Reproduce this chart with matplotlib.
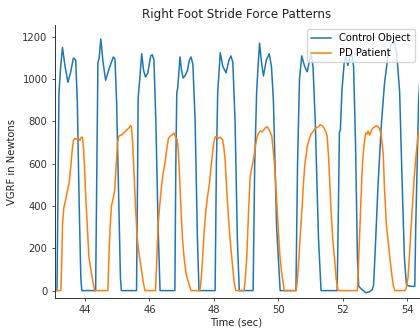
import matplotlib
matplotlib.use("Agg")
import matplotlib.pyplot as plt

control_t = [43.00, 43.13, 43.19, 43.24, 43.30, 43.38, 43.47, 43.55, 43.64, 43.71, 43.76, 43.82, 43.87, 43.90,
             44.33, 44.37, 44.40, 44.44, 44.49, 44.56, 44.64, 44.75, 44.88, 44.93, 44.98, 45.05, 45.10, 45.13,
             45.60, 45.63, 45.65, 45.70, 45.76, 45.82, 45.88, 45.95, 46.04, 46.09, 46.14, 46.20, 46.27, 46.33,
             46.79, 46.82, 46.85, 46.88, 46.95, 47.00, 47.05, 47.12, 47.18, 47.24, 47.29, 47.35, 47.42, 47.49, 47.54,
             48.04, 48.08, 48.12, 48.20, 48.28, 48.38, 48.47, 48.53, 48.59, 48.66, 48.73, 48.79,
             49.22, 49.27, 49.33, 49.37, 49.42, 49.48, 49.54, 49.63, 49.72, 49.79, 49.85, 49.95, 50.06,
             50.55, 50.60, 50.66, 50.73, 50.82, 50.90, 50.96, 51.02, 51.08, 51.15, 51.25, 51.33,
             51.83, 51.87, 51.90, 51.93, 51.98, 52.05, 52.10, 52.16, 52.22, 52.28, 52.34, 52.40, 52.46, 52.50,
             52.60, 52.72, 52.84, 52.92, 52.96, 53.00, 53.10, 53.20, 53.30, 53.40, 53.50, 53.61, 53.68, 53.77,
             53.85, 53.92, 53.98, 54.05, 54.15, 54.24, 54.27, 54.32, 54.36, 54.40]
control_v = [0, 0, 930, 1050, 1150, 1060, 985, 1030, 1100, 1090, 900, 400, 60, 0,
             0, 600, 1075, 1100, 1190, 1080, 995, 1050, 1105, 1095, 900, 400, 60, 0,
             0, 500, 910, 1000, 1120, 1040, 1010, 1030, 1110, 1115, 1090, 800, 300, 0,
             0, 600, 935, 960, 1105, 1040, 1005, 1020, 1040, 1090, 1105, 1070, 800, 250, 0,
             0, 600, 935, 1125, 1060, 1030, 1090, 1110, 1080, 800, 250, 0,
             0, 600, 940, 1050, 1170, 1080, 1015, 1090, 1120, 1060, 900, 300, 0,
             0, 600, 1000, 1110, 1060, 1035, 1080, 1115, 1060, 800, 250, 0,
             0, 400, 750, 760, 950, 1080, 1110, 1065, 1100, 1120, 1060, 700, 150, 20,
             5, -10, -5, 5, 25, 150, 500, 780, 980, 1100, 1160, 1175, 1120, 940,
             500, 150, 30, 22, 20, 20, 300, 630, 900, 1000]

pd_t = [43.00, 43.25, 43.28, 43.30, 43.34, 43.40, 43.45, 43.51, 43.56, 43.60, 43.64, 43.68, 43.74, 43.80,
        43.84, 43.88, 43.92, 43.95, 43.98, 44.03, 44.07, 44.12, 44.18, 44.23, 44.30,
        44.71, 44.74, 44.78, 44.82, 44.88, 44.92, 44.97, 45.01, 45.05, 45.10, 45.14, 45.19, 45.24, 45.30,
        45.37, 45.41, 45.44, 45.48, 45.52, 45.57, 45.62, 45.68, 45.76, 45.81, 45.86,
        46.19, 46.23, 46.27, 46.33, 46.38, 46.43, 46.48, 46.53, 46.59, 46.65, 46.69, 46.73, 46.77, 46.81,
        46.85, 46.89, 46.93, 46.98, 47.03, 47.08, 47.14, 47.19, 47.29,
        47.57, 47.61, 47.65, 47.70, 47.76, 47.81, 47.86, 47.91, 47.96, 48.00, 48.04, 48.08, 48.14, 48.20,
        48.27, 48.31, 48.35, 48.41, 48.47, 48.53, 48.58, 48.63, 48.68,
        48.94, 48.98, 49.02, 49.08, 49.13, 49.18, 49.23, 49.30, 49.35, 49.39, 49.45, 49.50, 49.55, 49.60,
        49.65, 49.70, 49.75, 49.80, 49.86, 49.91, 49.96, 50.01, 50.06, 50.12, 50.19,
        50.56, 50.60, 50.64, 50.70, 50.74, 50.78, 50.83, 50.90, 50.97, 51.02, 51.07, 51.12, 51.18, 51.25,
        51.30, 51.36, 51.42, 51.48, 51.52, 51.56, 51.59, 51.64, 51.70, 51.75, 51.80, 51.86,
        52.46, 52.50, 52.55, 52.60, 52.63, 52.68, 52.72, 52.76, 52.79, 52.84, 52.90, 52.95, 53.00, 53.05,
        53.10, 53.15, 53.20, 53.26, 53.30, 53.36, 53.42, 53.47, 53.53, 53.58, 53.62,
        53.93, 53.97, 54.03, 54.08, 54.13, 54.18, 54.23, 54.28, 54.34, 54.40]
pd_v = [0, 0, 150, 310, 390, 430, 470, 510, 590, 660, 710, 720, 715, 720,
        710, 725, 725, 680, 600, 420, 310, 160, 100, 55, 0,
        0, 150, 300, 400, 440, 470, 600, 700, 730, 735, 735, 745, 750, 760,
        770, 780, 775, 700, 560, 390, 250, 170, 90, 40, 0,
        0, 150, 310, 420, 500, 560, 600, 660, 720, 730, 735, 740, 745, 725,
        720, 680, 560, 390, 240, 150, 80, 50, 0,
        0, 60, 150, 280, 390, 450, 500, 580, 650, 700, 725, 730, 720, 725,
        715, 680, 620, 450, 310, 200, 120, 40, 0,
        0, 60, 150, 380, 540, 580, 620, 690, 730, 745, 755, 750, 760, 770,
        775, 765, 750, 730, 640, 540, 400, 270, 150, 70, 0,
        0, 60, 150, 300, 390, 500, 600, 680, 720, 740, 750, 760, 770, 775,
        785, 780, 770, 750, 730, 640, 540, 380, 230, 150, 55, 0,
        0, 150, 350, 550, 630, 710, 745, 740, 755, 735, 760, 770, 775, 780,
        775, 765, 730, 650, 480, 310, 220, 150, 70, 20, 0,
        0, 10, 60, 180, 310, 430, 550, 640, 735, 760]

x_ticks = [44, 46, 48, 50, 52, 54]
y_ticks = [0, 200, 400, 600, 800, 1000, 1200]

plt.rcParams['font.family'] = ['DejaVu Sans']
fig = plt.figure(figsize=(4.2, 3.33), dpi=100)
ax = fig.add_axes([0.1298, 0.1051, 0.8667, 0.8198])
ax.plot(control_t, control_v, color='#1f77b4', lw=1.1, label='Control Object')
ax.plot(pd_t, pd_v, color='#ff7f0e', lw=1.1, label='PD Patient')
ax.set_xlim(43.053, 54.357)
ax.set_ylim(-35, 1256)
ax.set_xticks(x_ticks)
ax.set_yticks(y_ticks)
ax.tick_params(labelsize=7.2, length=2.5, width=0.6, pad=2.5, colors='#333333')
for s in ['top', 'right']:
    ax.spines[s].set_visible(False)
for s in ['left', 'bottom']:
    ax.spines[s].set_linewidth(0.7)
    ax.spines[s].set_color('#333333')
ax.set_xlabel('Time (sec)', fontsize=7.2, labelpad=2, color='#222222')
ax.set_ylabel('VGRF in Newtons', fontsize=7.2, labelpad=4, color='#222222')
ax.set_title('Right Foot Stride Force Patterns', fontsize=8.6, pad=5, color='#222222')
leg = ax.legend(loc='upper right', fontsize=7.2, framealpha=0.8, borderaxespad=0.4)
fig.savefig('out.png', dpi=100)
